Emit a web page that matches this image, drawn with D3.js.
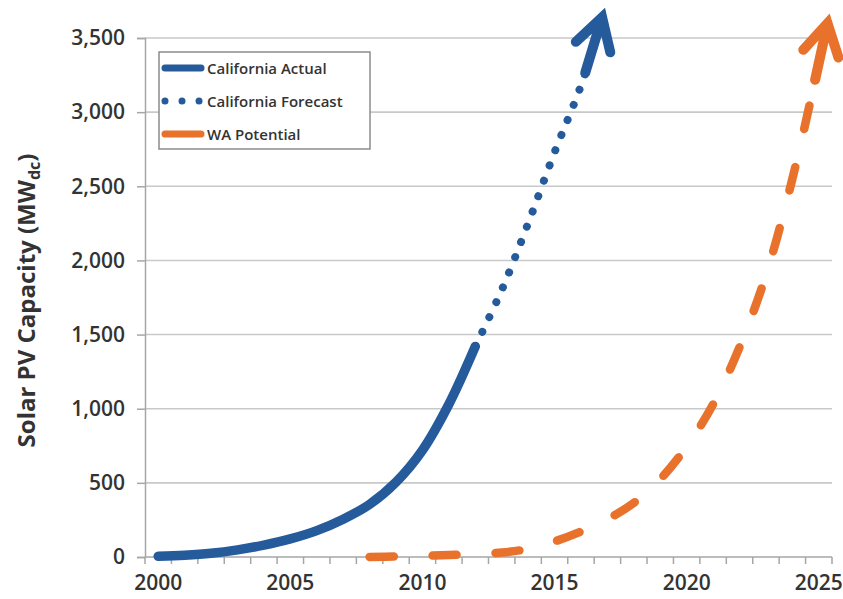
<!DOCTYPE html>
<html>
<head>
<meta charset="utf-8">
<script src="https://cdn.jsdelivr.net/npm/d3@7"></script>
<style>
  html, body { margin: 0; padding: 0; background: #ffffff; }
  svg { display: block; }
  text { font-family: "Open Sans", "Liberation Sans", sans-serif; fill: #333333; }
</style>
</head>
<body>
<svg id="chart" width="843" height="599"></svg>
<script>
// ---- data ----
const actualYears  = [2000, 2001, 2002, 2003, 2004, 2005, 2006, 2007, 2008, 2009, 2010, 2011, 2012];
const actualValues = [5, 12, 25, 48, 80, 122, 178, 255, 355, 505, 720, 1030, 1420];

const forecastYears  = [2012, 2013, 2014, 2015, 2016, 2016.8];
const forecastValues = [1420, 1800, 2250, 2730, 3180, 3640];

const waYears  = [2008, 2009, 2010, 2011, 2012, 2013, 2014, 2015, 2016, 2017, 2018, 2019, 2020, 2021, 2022, 2023, 2024, 2025, 2025.33];
const waValues = [0, 4, 8, 13, 19, 30, 55, 105, 172, 255, 365, 525, 745, 1030, 1415, 1900, 2550, 3330, 3600];

const categories  = d3.range(2000, 2026);
const xTickLabels = [2000, 2005, 2010, 2015, 2020, 2025];
const yTickValues = [0, 500, 1000, 1500, 2000, 2500, 3000, 3500];
const legendLabels = ["California Actual", "California Forecast", "WA Potential"];

const BLUE = "#255A9B";
const ORANGE = "#E8712B";

// ---- layout ----
const svg = d3.select("#chart");
const plot = { left: 145, right: 832, top: 38, bottom: 557 };

const x = d3.scaleLinear()
  .domain([categories[0] - 0.5, categories[categories.length - 1] + 0.5])
  .range([plot.left, plot.right]);
const y = d3.scaleLinear().domain([0, 3500]).range([plot.bottom, plot.top]);

// gridlines
svg.append("g").selectAll("line").data(yTickValues.filter(v => v > 0)).join("line")
  .attr("x1", plot.left).attr("x2", plot.right)
  .attr("y1", d => y(d)).attr("y2", d => y(d))
  .attr("stroke", "#c9c9c9").attr("stroke-width", 1.6);

// y axis
const yAxis = d3.axisLeft(y).tickValues(yTickValues).tickFormat(d3.format(",")).tickSize(8).tickPadding(12);
const gy = svg.append("g").attr("transform", `translate(${plot.left},0)`).call(yAxis);
gy.select(".domain").attr("stroke", "#a6a6a6").attr("stroke-width", 1.5);
gy.selectAll(".tick line").attr("stroke", "#a6a6a6").attr("stroke-width", 1.5);
gy.selectAll(".tick text").attr("font-size", 21).attr("font-weight", 600)
  .attr("font-family", '"Open Sans", sans-serif').attr("fill", "#333");

// x axis: tick marks at category boundaries, labels every 5 years at category centres
const boundaries = d3.range(categories.length + 1).map(i => categories[0] - 0.5 + i);
const gx = svg.append("g").attr("transform", `translate(0,${plot.bottom})`);
gx.append("line").attr("x1", plot.left).attr("x2", plot.right)
  .attr("stroke", "#a6a6a6").attr("stroke-width", 1.5);
gx.selectAll("line.tk").data(boundaries).join("line").attr("class", "tk")
  .attr("x1", d => x(d)).attr("x2", d => x(d)).attr("y1", 0).attr("y2", 7)
  .attr("stroke", "#a6a6a6").attr("stroke-width", 1.5);
gx.selectAll("text").data(xTickLabels).join("text")
  .attr("x", d => x(d)).attr("y", 33)
  .attr("text-anchor", "middle").attr("font-size", 21).attr("font-weight", 600)
  .text(d => d);

// y axis title
const title = svg.append("text")
  .attr("transform", `translate(35,${(plot.top + plot.bottom) / 2 + 3}) rotate(-90)`)
  .attr("text-anchor", "middle").attr("font-size", 24).attr("font-weight", 700);
title.append("tspan").text("Solar PV Capacity (MW");
title.append("tspan").attr("font-size", 16).attr("dy", 5).text("dc");
title.append("tspan").attr("dy", -5).text(")");

// ---- series ----
const line = d3.line().x(d => x(d[0])).y(d => y(d[1])).curve(d3.curveCatmullRom.alpha(0.5));

const actual = d3.zip(actualYears, actualValues);
const forecast = d3.zip(forecastYears, forecastValues);
const wa = d3.zip(waYears, waValues);

const gSeries = svg.append("g");

gSeries.append("path").datum(actual).attr("d", line)
  .attr("fill", "none").attr("stroke", BLUE).attr("stroke-width", 9.5)
  .attr("stroke-linecap", "round").attr("stroke-linejoin", "round");

const fPath = gSeries.append("path").datum(forecast).attr("d", line)
  .attr("fill", "none").attr("stroke", BLUE).attr("stroke-width", 8)
  .attr("stroke-linecap", "round").attr("stroke-dasharray", "0.01 16.3");

const wPath = gSeries.append("path").datum(wa).attr("d", line)
  .attr("fill", "none").attr("stroke", ORANGE).attr("stroke-width", 8.5)
  .attr("stroke-linecap", "round").attr("stroke-dasharray", "24 39");

function arrowHead(pathSel, color, width) {
  const node = pathSel.node();
  const L = node.getTotalLength();
  const tip = node.getPointAtLength(L);
  const back = node.getPointAtLength(Math.max(0, L - 58));
  const dx = tip.x - back.x, dy = tip.y - back.y;
  const len = Math.hypot(dx, dy);
  const ux = -dx / len, uy = -dy / len; // pointing backwards
  const ang = 30 * Math.PI / 180, bl = 36;
  const rot = (a) => [ux * Math.cos(a) - uy * Math.sin(a), ux * Math.sin(a) + uy * Math.cos(a)];
  const [l1x, l1y] = rot(ang), [l2x, l2y] = rot(-ang);
  const shaftStart = [tip.x + ux * 58, tip.y + uy * 58];
  gSeries.append("path")
    .attr("d", `M${shaftStart[0]},${shaftStart[1]}L${tip.x},${tip.y}` +
               `M${tip.x + l1x * bl},${tip.y + l1y * bl}L${tip.x},${tip.y}L${tip.x + l2x * bl},${tip.y + l2y * bl}`)
    .attr("fill", "none").attr("stroke", color).attr("stroke-width", width)
    .attr("stroke-linecap", "round").attr("stroke-linejoin", "miter");
}
arrowHead(fPath, BLUE, 10);
arrowHead(wPath, ORANGE, 10);

// ---- legend ----
const lg = svg.append("g");
lg.append("rect").attr("x", 159).attr("y", 52).attr("width", 211).attr("height", 97)
  .attr("fill", "#fff").attr("stroke", "#8c8c8c").attr("stroke-width", 1.5);
const rows = lg.selectAll("g.row").data(legendLabels).join("g").attr("class", "row")
  .attr("transform", (d, i) => `translate(0,${68 + i * 33})`);
rows.append("line").attr("x1", 165).attr("x2", 201).attr("y1", 0).attr("y2", 0)
  .attr("stroke", (d, i) => i === 2 ? ORANGE : BLUE)
  .attr("stroke-width", 7).attr("stroke-linecap", "round")
  .attr("stroke-dasharray", (d, i) => i === 1 ? "0.01 17" : null);
rows.append("text").attr("x", 207).attr("y", 5.5).attr("font-size", 15).attr("font-weight", 600)
  .text(d => d);
</script>
</body>
</html>
